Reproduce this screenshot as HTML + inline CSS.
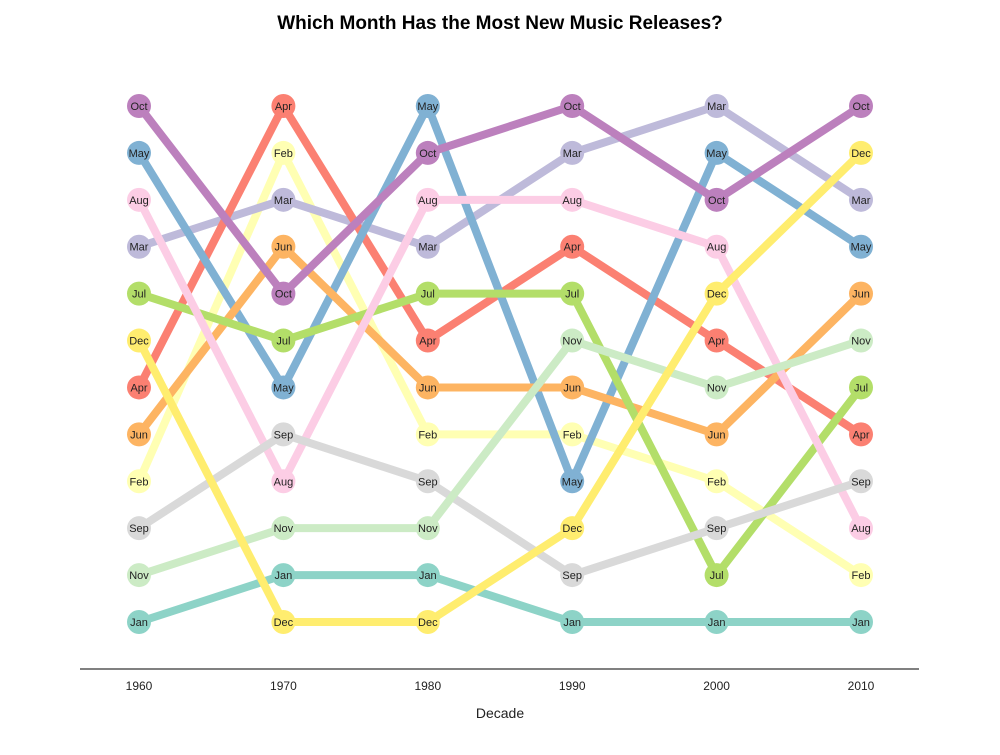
<!DOCTYPE html>
<html><head><meta charset="utf-8"><style>
body{margin:0;background:#fff;font-family:"Liberation Sans",Arial,sans-serif}
</style></head><body>
<svg id="chart" width="1000" height="750" xmlns="http://www.w3.org/2000/svg">
<text x="500" y="29" text-anchor="middle" font-size="19" font-weight="bold" fill="#000">Which Month Has the Most New Music Releases?</text>
<line x1="80" y1="669" x2="919" y2="669" stroke="#000" stroke-width="1"/>
<text x="500" y="718" text-anchor="middle" font-size="14" fill="#222">Decade</text>
<g id="lines"></g><g id="dots"></g><g id="ticks"></g>
</svg>
<script>
const decades = ["1960","1970","1980","1990","2000","2010"];
const months = ["Jan","Feb","Mar","Apr","May","Jun","Jul","Aug","Sep","Oct","Nov","Dec"];
const colors = ["#8dd3c7","#ffffb3","#bebada","#fb8072","#80b1d3","#fdb462","#b3de69","#fccde5","#d9d9d9","#bc80bd","#ccebc5","#ffed6f"];
const rankings = [
 ["Oct","May","Aug","Mar","Jul","Dec","Apr","Jun","Feb","Sep","Nov","Jan"],
 ["Apr","Feb","Mar","Jun","Oct","Jul","May","Sep","Aug","Nov","Jan","Dec"],
 ["May","Oct","Aug","Mar","Jul","Apr","Jun","Feb","Sep","Nov","Jan","Dec"],
 ["Oct","Mar","Aug","Apr","Jul","Nov","Jun","Feb","May","Dec","Sep","Jan"],
 ["Mar","May","Oct","Aug","Dec","Apr","Nov","Jun","Feb","Sep","Jul","Jan"],
 ["Oct","Dec","Mar","May","Jun","Nov","Jul","Apr","Sep","Aug","Feb","Jan"]
];
const NS="http://www.w3.org/2000/svg";
const xScale=i=>139+i*(861-139)/(decades.length-1);
const yScale=r=>106+r*(622-106)/11;
const lines=document.getElementById('lines'),dots=document.getElementById('dots'),ticks=document.getElementById('ticks');
decades.forEach((d,i)=>{
 const t=document.createElementNS(NS,'text');
 t.setAttribute('x',xScale(i));t.setAttribute('y',690);t.setAttribute('text-anchor','middle');t.setAttribute('font-size','12');t.setAttribute('fill','#222');
 t.textContent=d;
 
 
 ticks.appendChild(t);
});
months.forEach((m,mi)=>{
 const pts=rankings.map((r,i)=>[xScale(i),yScale(r.indexOf(m))]);
 const p=document.createElementNS(NS,'polyline');
 p.setAttribute('points',pts.map(q=>q.join(',')).join(' '));
 p.setAttribute('fill','none');p.setAttribute('stroke',colors[mi]);p.setAttribute('stroke-width','8');
 
 
 lines.appendChild(p);
 pts.forEach((q,i)=>{
  const c=document.createElementNS(NS,'circle');
  c.setAttribute('cx',q[0]);c.setAttribute('cy',q[1]);c.setAttribute('r','12');c.setAttribute('fill',colors[mi]);
  
  
  dots.appendChild(c);
  const t=document.createElementNS(NS,'text');
  t.setAttribute('x',q[0]);t.setAttribute('y',q[1]+4);t.setAttribute('text-anchor','middle');t.setAttribute('font-size','11');t.setAttribute('fill','#222');
  t.textContent=m;
  
  
  dots.appendChild(t);
 });
});
</script>
</body></html>
